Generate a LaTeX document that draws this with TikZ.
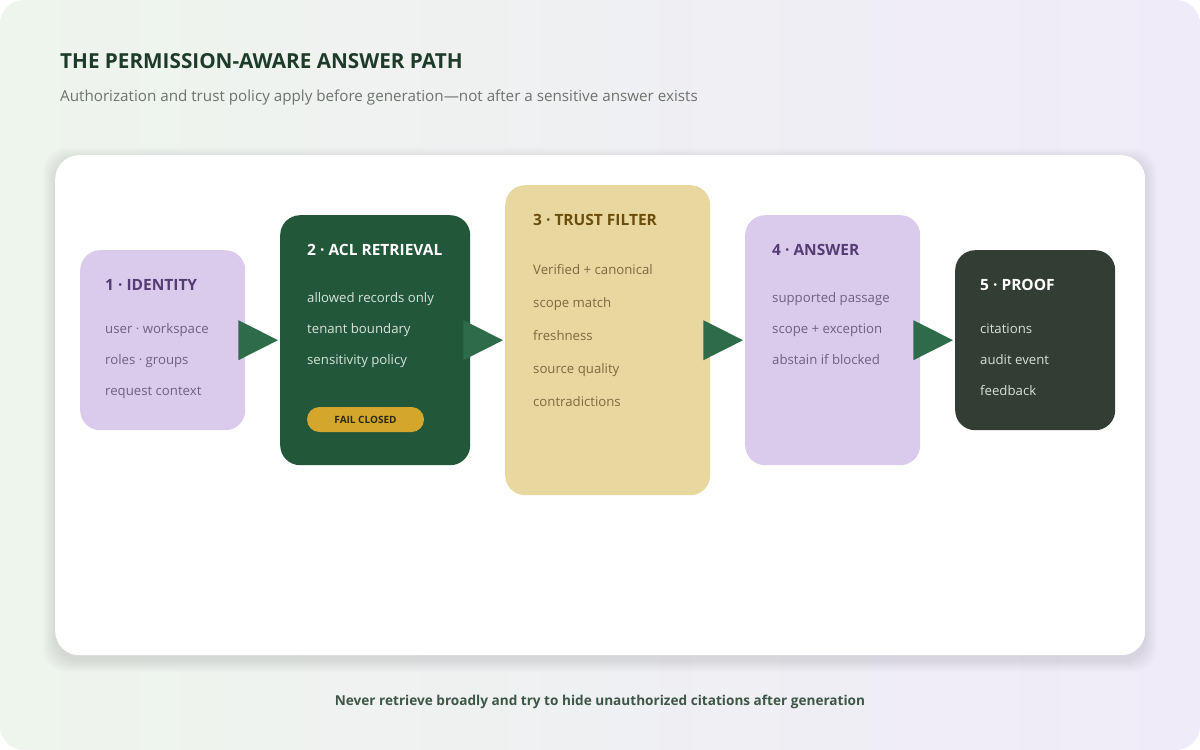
\documentclass[tikz,border=0pt]{standalone}
\usepackage{fontspec}
\setmainfont{Open Sans}
\usetikzlibrary{calc}
\definecolor{bgleft}{HTML}{EEF5EC}
\definecolor{bgright}{HTML}{F0EBF9}
\definecolor{headink}{HTML}{1E3B29}
\definecolor{subink}{HTML}{6E736E}
\definecolor{footink}{HTML}{3E5646}
\definecolor{haze}{HTML}{4A4670}
\definecolor{lilac}{HTML}{DACAEC}
\definecolor{lilacink}{HTML}{553C75}
\definecolor{lilacsoft}{HTML}{6F6182}
\definecolor{pine}{HTML}{22573A}
\definecolor{pinesoft}{HTML}{D6E4D9}
\definecolor{wheat}{HTML}{E8D79E}
\definecolor{wheatink}{HTML}{6B4E0E}
\definecolor{wheatsoft}{HTML}{7D6A40}
\definecolor{slate}{HTML}{323D34}
\definecolor{slatesoft}{HTML}{D9DED9}
\definecolor{gold}{HTML}{D4A72C}
\definecolor{goldink}{HTML}{2B2A1A}
\definecolor{pointer}{HTML}{2E6B4A}
\begin{document}
\begin{tikzpicture}[x=1pt,y=-1pt,
    stage/.style={rounded corners=20pt, anchor=north west, inner sep=0pt},
    stagetitle/.style={anchor=base west, inner sep=0pt, font=\bfseries\fontsize{15.5}{18}\selectfont},
    stageitem/.style={anchor=base west, inner sep=0pt, font=\fontsize{13.2}{16}\selectfont}]
    \fill[white] (0,0) rectangle (1200,750);
    \shade[left color=bgleft, right color=bgright, rounded corners=24pt] (0,0) rectangle (1200,750);
    \node[anchor=base west, inner sep=0pt, text=headink, font=\bfseries\fontsize{20.7}{24}\selectfont] (head) at (60,68) {THE PERMISSION-AWARE ANSWER PATH};
    \node[anchor=base west, inner sep=0pt, text=subink, font=\fontsize{15.2}{18}\selectfont] (sub) at (60,101) {Authorization and trust policy apply before generation—not after a sensitive answer exists};

    \coordinate (pnw) at (55,155);
    \coordinate (pse) at (1145,655);
    \foreach \s in {1,...,12} {
      \fill[haze, opacity=0.012, rounded corners=24pt] ($(pnw)+(-\s,-\s+5)$) rectangle ($(pse)+(\s,\s+5)$);
    }
    \node[stage, fill=white, minimum width=1090pt, minimum height=500pt, rounded corners=24pt] (panel) at (pnw) {};

    \node[stage, fill=lilac, minimum width=165pt, minimum height=180pt] (ident) at (80,250) {};
    \node[stage, fill=pine, minimum width=190pt, minimum height=250pt] (acl) at (280,215) {};
    \node[stage, fill=wheat, minimum width=205pt, minimum height=310pt] (trust) at (505,185) {};
    \node[stage, fill=lilac, minimum width=175pt, minimum height=250pt] (answer) at (745,215) {};
    \node[stage, fill=slate, minimum width=160pt, minimum height=180pt] (proof) at (955,250) {};

    \foreach \a/\b in {ident/acl, acl/trust, trust/answer, answer/proof} {
      \fill[pointer] ($(\a.east)+(-7,-20)$) -- ($(\b.west)+(-2,0)$) -- ($(\a.east)+(-7,20)$) -- cycle;
    }

    \node[stagetitle, text=lilacink] (ident-t) at (105,290) {1 · IDENTITY};
    \foreach \y/\t [count=\i] in {333/user · workspace, 364/roles · groups, 395/request context} {
      \node[stageitem, text=lilacsoft] (ident-\i) at (105,\y) {\t};
    }
    \node[stagetitle, text=white] (acl-t) at (307,255) {2 · ACL RETRIEVAL};
    \foreach \y/\t [count=\i] in {302/allowed records only, 333/tenant boundary, 364/sensitivity policy} {
      \node[stageitem, text=pinesoft] (acl-\i) at (307,\y) {\t};
    }
    \node[fill=gold, text=goldink, rounded corners=12.5pt, minimum width=117pt, minimum height=25pt, inner sep=0pt,
      font=\bfseries\fontsize{10}{12}\selectfont] (fail) at (365.5,419.5) {FAIL CLOSED};
    \node[stagetitle, text=wheatink] (trust-t) at (533,225) {3 · TRUST FILTER};
    \foreach \y/\t [count=\i] in {274/Verified + canonical, 307/scope match, 340/freshness, 373/source quality, 406/contradictions} {
      \node[stageitem, text=wheatsoft] (trust-\i) at (533,\y) {\t};
    }
    \node[stagetitle, text=lilacink] (answer-t) at (772,255) {4 · ANSWER};
    \foreach \y/\t [count=\i] in {302/supported passage, 333/scope + exception, 364/abstain if blocked} {
      \node[stageitem, text=lilacsoft] (answer-\i) at (772,\y) {\t};
    }
    \node[stagetitle, text=white] (proof-t) at (980,290) {5 · PROOF};
    \foreach \y/\t [count=\i] in {333/citations, 364/audit event, 395/feedback} {
      \node[stageitem, text=slatesoft] (proof-\i) at (980,\y) {\t};
    }

    \node[anchor=base, inner sep=0pt, text=footink, font=\bfseries\fontsize{13.6}{17}\selectfont] (foot) at (600,705) {Never retrieve broadly and try to hide unauthorized citations after generation};
  \end{tikzpicture}
\end{document}
